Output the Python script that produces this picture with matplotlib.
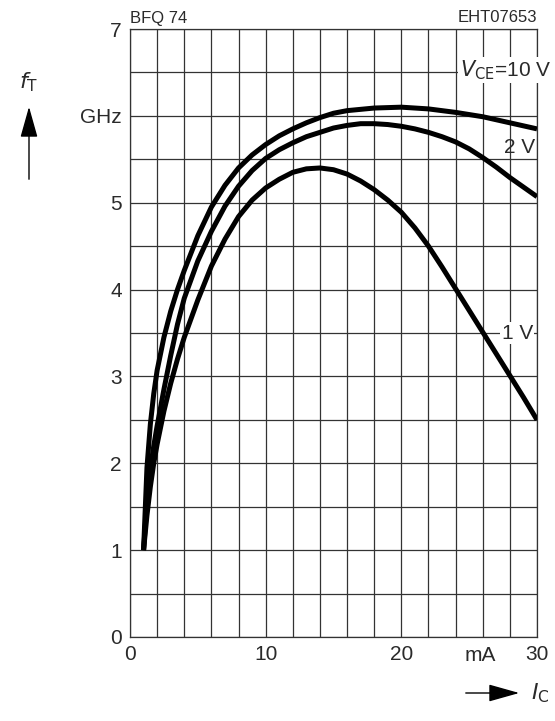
import matplotlib
matplotlib.use("Agg")
import matplotlib.pyplot as plt
from matplotlib.patches import FancyArrowPatch

# ---- data ----
ic_10v = [1.0, 1.25, 1.5, 1.75, 2.0, 2.5, 3.0, 3.5, 4.0, 5.0, 6.0, 7.0, 8.0, 9.0, 10, 11, 12, 13, 14, 15, 16, 18, 20, 22, 24, 26, 28, 30]
ft_10v = [1.0, 1.95, 2.45, 2.80, 3.07, 3.45, 3.75, 4.0, 4.22, 4.62, 4.95, 5.20, 5.40, 5.55, 5.67, 5.77, 5.85, 5.92, 5.98, 6.03, 6.06, 6.09, 6.10, 6.08, 6.04, 5.99, 5.92, 5.85]

ic_2v = [1.0, 1.25, 1.5, 1.75, 2.0, 2.5, 3.0, 3.5, 4.0, 5.0, 6.0, 7.0, 8.0, 9.0, 10, 11, 12, 13, 14, 15, 16, 17, 18, 19, 20, 21, 22, 23, 24, 25, 26, 27, 28, 29, 30]
ft_2v = [1.0, 1.55, 1.93, 2.2, 2.43, 2.85, 3.24, 3.6, 3.9, 4.33, 4.67, 4.96, 5.19, 5.37, 5.51, 5.61, 5.69, 5.76, 5.81, 5.86, 5.89, 5.91, 5.91, 5.90, 5.88, 5.85, 5.81, 5.76, 5.70, 5.62, 5.52, 5.41, 5.29, 5.18, 5.07]

ic_1v = [1.0, 1.25, 1.5, 1.75, 2.0, 2.5, 3.0, 3.5, 4.0, 5.0, 6.0, 7.0, 8.0, 9.0, 10, 11, 12, 13, 14, 15, 16, 17, 18, 19, 20, 21, 22, 23, 24, 25, 26, 27, 28, 29, 30]
ft_1v = [1.0, 1.4, 1.73, 2.0, 2.22, 2.6, 2.92, 3.2, 3.45, 3.88, 4.27, 4.58, 4.84, 5.03, 5.17, 5.27, 5.35, 5.39, 5.40, 5.38, 5.33, 5.25, 5.15, 5.03, 4.89, 4.71, 4.50, 4.26, 4.01, 3.76, 3.51, 3.26, 3.01, 2.76, 2.50]

x_ticks = [0, 10, 20, 30]
x_tick_labels = ["0", "10", "20", "30"]
y_ticks = [0, 1, 2, 3, 4, 5, 6, 7]
y_tick_labels = ["0", "1", "2", "3", "4", "5", "GHz", "7"]

FONT = ["Liberation Sans", "DejaVu Sans"]
plt.rcParams["font.family"] = FONT
TXT = "#2a2a2a"

W, H = 555, 721
fig = plt.figure(figsize=(W / 100, H / 100), dpi=100)
ax = fig.add_axes([130 / W, (H - 637) / H, 407 / W, 608 / H])

ax.set_xlim(0, 30)
ax.set_ylim(0, 7)

# grid
for gx in range(0, 31, 2):
    ax.axvline(gx, color="#333333", lw=0.9, zorder=1)
for i in range(0, 15):
    ax.axhline(i * 0.5, color="#333333", lw=0.9, zorder=1)
for s in ax.spines.values():
    s.set_color("#333333")
    s.set_linewidth(0.9)

for xs, ys in [(ic_10v, ft_10v), (ic_2v, ft_2v), (ic_1v, ft_1v)]:
    ax.plot(xs, ys, color="black", lw=3.6, solid_capstyle="butt",
            solid_joinstyle="round", zorder=3)

ax.set_xticks(x_ticks)
ax.set_xticklabels(x_tick_labels)
ax.set_yticks(y_ticks)
ax.set_yticklabels(y_tick_labels)
ax.tick_params(length=0, labelsize=15, pad=6, colors=TXT)

# mA label
ax.text(25.8, -0.1, "mA", ha="center", va="top", fontsize=15, color=TXT,
        transform=ax.transData, clip_on=False)

# curve labels
ax.text(24.3, 6.53, r"$V_{\mathrm{CE}}$=10 V", ha="left", va="center", fontsize=15,
        color=TXT, zorder=4,
        bbox=dict(facecolor="white", edgecolor="none", pad=1))
ax.text(27.6, 5.64, "2 V", ha="left", va="center", fontsize=15, color=TXT, zorder=4)
ax.text(27.4, 3.5, "1 V", ha="left", va="center", fontsize=15, color=TXT, zorder=4,
        bbox=dict(facecolor="white", edgecolor="none", pad=1))

# header texts
fig.text(130 / W, 1 - 18 / H, "BFQ 74", ha="left", va="center", fontsize=12, color=TXT)
fig.text(537 / W, 1 - 18 / H, "EHT07653", ha="right", va="center", fontsize=12, color=TXT)

# y-axis quantity and arrow
fig.text(29 / W, 1 - 82 / H, r"$f_{\mathrm{T}}$", ha="center", va="center", fontsize=16, color=TXT)
fig.patches.append(FancyArrowPatch((29 / W, 1 - 182 / H), (29 / W, 1 - 104 / H),
                                   transform=fig.transFigure, arrowstyle="-|>,head_length=1.6,head_width=0.45",
                                   mutation_scale=12, color="black", lw=1.0))

# x-axis quantity and arrow
fig.patches.append(FancyArrowPatch((463 / W, 1 - 693 / H), (522 / W, 1 - 693 / H),
                                   transform=fig.transFigure, arrowstyle="-|>,head_length=1.6,head_width=0.45",
                                   mutation_scale=12, color="black", lw=1.0))
fig.text(540 / W, 1 - 693 / H, r"$I_{\mathrm{C}}$", ha="center", va="center", fontsize=16, color=TXT)

fig.savefig("out.png", dpi=100)
